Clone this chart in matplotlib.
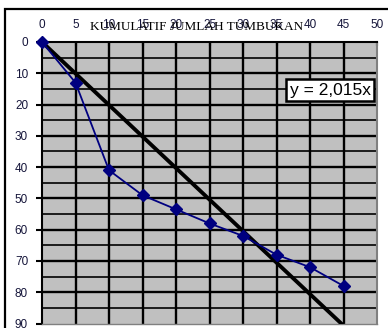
import matplotlib
matplotlib.use("Agg")
import matplotlib.pyplot as plt
from matplotlib.patches import Rectangle
import numpy as np

# Cumulative blow counts vs. depth
kumulatif = [0, 5, 10, 15, 20, 25, 30, 35, 40, 45]
kedalaman = [0, 13, 41, 49, 53.5, 58, 62, 68, 72, 78]
slope = 2.015
x_ticks = [0, 5, 10, 15, 20, 25, 30, 35, 40, 45, 50]
y_ticks = [0, 10, 20, 30, 40, 50, 60, 70, 80, 90]
title = "KUMULATIF JUMLAH TUMBUKAN"
eq_label = "y = 2,015x"

plt.rcParams['font.family'] = ['Liberation Sans', 'DejaVu Sans']

fig = plt.figure(figsize=(3.88, 3.28), dpi=100)
fig.patch.set_facecolor('white')

# chart-area border
fig.add_artist(Rectangle((5 / 388, -0.1), 1.2, 1 - 9 / 328 + 0.1,
                         transform=fig.transFigure, fill=False,
                         edgecolor='black', lw=1.6, zorder=0))

ax = fig.add_axes([42 / 388, 1 - 323.5 / 328, (377 - 42) / 388, (323.5 - 42) / 328])
ax.set_facecolor('#c0c0c0')
ax.set_xlim(0, 50)
ax.set_ylim(90, 0)

# grid
for xv in np.arange(5, 50, 5):
    ax.axvline(xv, color='black', lw=1.7, zorder=1)
for yv in np.arange(5, 90, 5):
    ax.axhline(yv, color='black', lw=1.7 if yv % 10 == 0 else 1.2, zorder=1)

for side in ['left', 'top']:
    ax.spines[side].set_color('black')
    ax.spines[side].set_linewidth(1.5)
ax.spines['right'].set_color('#808080')
ax.spines['right'].set_linewidth(1.5)
ax.spines['bottom'].set_color('#808080')
ax.spines['bottom'].set_linewidth(1.0)

ax.xaxis.tick_top()
ax.set_xticks(x_ticks)
ax.set_yticks(y_ticks)
ax.set_xticklabels([str(v) for v in x_ticks], family='Liberation Sans')
ax.set_yticklabels([str(v) for v in y_ticks], family='Liberation Sans')
ax.tick_params(axis='x', length=3, width=1.5, pad=8, labelsize=8.5,
               labelcolor='#15153a', direction='in')
ax.tick_params(axis='y', length=4, width=1.5, pad=6, labelsize=8.5,
               labelcolor='#15153a', direction='out')

# trendline through origin
xt = np.array([0, kumulatif[-1]])
ax.plot(xt, slope * xt, color='black', lw=2.8, zorder=3, clip_on=True)

# measured data
ax.plot(kumulatif, kedalaman, color='#000080', lw=1.3, marker='D',
        markersize=6, markerfacecolor='#000080', markeredgecolor='#000080',
        zorder=4, clip_on=False)

fig.text(197 / 388, 1 - 27 / 328, title, family='Liberation Serif',
         fontsize=9.5, ha='center', va='center', color='black')

fig.text(330 / 388, 1 - 90 / 328, eq_label, fontsize=12.5, ha='center',
         va='center', color='black', family='Liberation Sans',
         bbox=dict(boxstyle='square,pad=0.22', facecolor='white',
                   edgecolor='black', lw=1.8))

fig.savefig('out.png', dpi=100)
